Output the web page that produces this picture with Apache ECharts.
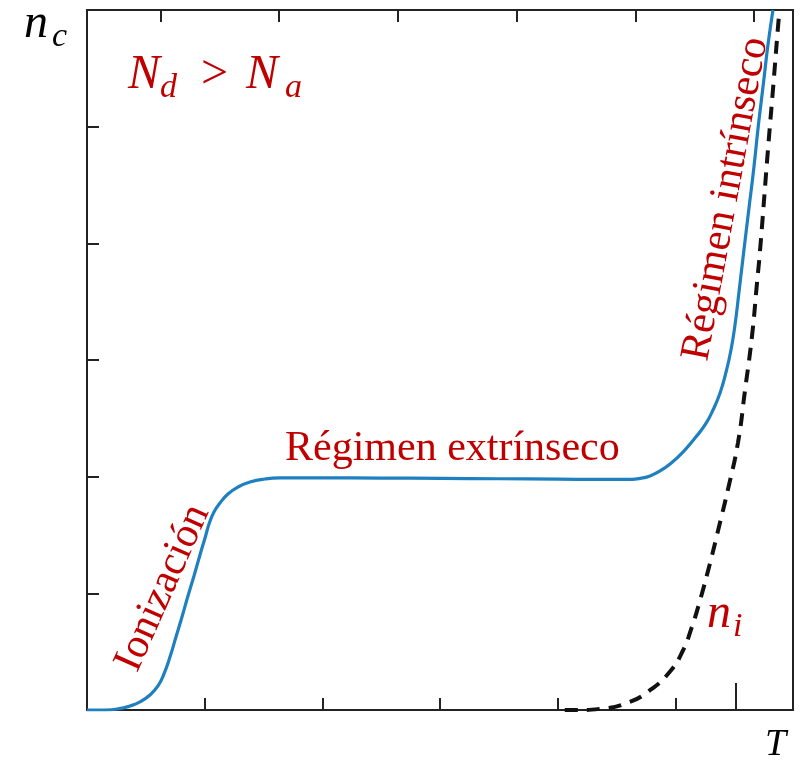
<!DOCTYPE html>
<html>
<head>
<meta charset="utf-8">
<script src="https://cdn.jsdelivr.net/npm/echarts@6/dist/echarts.min.js"></script>
<style>
  html, body { margin: 0; padding: 0; background: #ffffff; }
  #chart { width: 810px; height: 764px; }
</style>
</head>
<body>
<div id="chart"></div>
<script>
// ---- data (arbitrary units: T on 0..6, n on 0..6) ----
const tCarrier = [0, 0.153, 0.263, 0.365, 0.45, 0.535, 0.603, 0.654, 0.705, 0.756, 0.807, 0.858, 0.909, 0.96, 1.003, 1.037, 1.079, 1.13, 1.198, 1.283, 1.385, 1.513, 1.64, 1.98, 2.5, 3.0, 3.5, 4.0, 4.4, 4.589, 4.70, 4.785, 4.87, 4.955, 5.065, 5.167, 5.252, 5.32, 5.38, 5.431, 5.473, 5.507, 5.541, 5.583, 5.626, 5.668, 5.706, 5.749, 5.787, 5.83];
const nCarrier = [0, 0, 0.009, 0.034, 0.069, 0.129, 0.206, 0.309, 0.454, 0.626, 0.797, 0.977, 1.149, 1.329, 1.474, 1.594, 1.697, 1.774, 1.851, 1.911, 1.954, 1.98, 1.989, 1.989, 1.988, 1.985, 1.982, 1.979, 1.976, 1.976, 1.985, 2.006, 2.049, 2.109, 2.211, 2.331, 2.443, 2.571, 2.717, 2.897, 3.086, 3.30, 3.583, 3.943, 4.303, 4.654, 5.014, 5.374, 5.70, 6.0];
const tIntrinsic = [4.06, 4.16, 4.36, 4.59, 4.785, 4.955, 5.065, 5.14, 5.21, 5.295, 5.371, 5.447, 5.532, 5.592, 5.651, 5.694, 5.72, 5.787, 5.834, 5.868, 5.885];
const nIntrinsic = [0, 0, 0.01, 0.06, 0.17, 0.33, 0.51, 0.71, 0.94, 1.26, 1.57, 1.89, 2.29, 2.74, 3.20, 3.66, 3.94, 4.80, 5.37, 5.80, 6.0];

const bottomTicks = [1, 2, 3, 4, 5];
const longBottomTick = [5.515];
const topTicks = [0.63, 1.63, 2.64, 3.65, 4.66, 5.67];
const leftTicks = [1, 2, 3, 4, 5];

const labels = {
  yName: ['n', 'c'],
  xName: 'T',
  condition: ['N', 'd', '>', 'N', 'a'],
  intrinsicName: ['n', 'i'],
  ionization: 'Ionización',
  extrinsic: 'Régimen extrínseco',
  intrinsic: 'Régimen intrínseco'
};

const toPairs = (xs, ys) => xs.map((x, i) => [x, ys[i]]);

const AX = '#222222';
const RED = '#c00000';
const BLUE = '#1f80bf';
const MATH = '"Liberation Serif", "DejaVu Serif", serif';

const chart = echarts.init(document.getElementById('chart'), null, { renderer: 'canvas' });

const axisBase = (extra) => Object.assign({
  type: 'value', min: 0, max: 6,
  splitLine: { show: false },
  axisLabel: { show: false }
}, extra);

const option = {
  animation: false,
  backgroundColor: '#ffffff',
  grid: [
    { left: 87, right: 17, top: 10, bottom: 54 },
    { left: 87, right: 17, top: 10, bottom: 54 }
  ],
  xAxis: [
    axisBase({ gridIndex: 0, position: 'bottom',
      axisLine: { show: true, onZero: false, lineStyle: { color: AX, width: 2 } },
      axisTick: { show: true, inside: true, length: 12, customValues: bottomTicks, lineStyle: { color: AX, width: 2 } } }),
    axisBase({ gridIndex: 0, position: 'top',
      axisLine: { show: true, onZero: false, lineStyle: { color: AX, width: 2 } },
      axisTick: { show: true, inside: true, length: 12, customValues: topTicks, lineStyle: { color: AX, width: 2 } } }),
    axisBase({ gridIndex: 1, position: 'bottom',
      axisLine: { show: false },
      axisTick: { show: true, inside: true, length: 27, customValues: longBottomTick, lineStyle: { color: AX, width: 2 } } })
  ],
  yAxis: [
    axisBase({ gridIndex: 0, position: 'left',
      axisLine: { show: true, onZero: false, lineStyle: { color: AX, width: 2 } },
      axisTick: { show: true, inside: true, length: 12, customValues: leftTicks, lineStyle: { color: AX, width: 2 } } }),
    axisBase({ gridIndex: 0, position: 'right',
      axisLine: { show: true, onZero: false, lineStyle: { color: AX, width: 2 } },
      axisTick: { show: false } }),
    axisBase({ gridIndex: 1, show: false })
  ],
  series: [
    {
      type: 'line', xAxisIndex: 0, yAxisIndex: 0,
      data: toPairs(tIntrinsic, nIntrinsic),
      showSymbol: false, smooth: 0.5,
      lineStyle: { color: '#111111', width: 4, type: [13, 9] },
      z: 3
    },
    {
      type: 'line', xAxisIndex: 0, yAxisIndex: 0,
      data: toPairs(tCarrier, nCarrier),
      showSymbol: false, smooth: 0.5,
      lineStyle: { color: BLUE, width: 3.2 },
      z: 4
    }
  ],
  graphic: [
    // y axis name n_c
    { type: 'text', x: 24, y: 24, style: { text: labels.yName[0], font: 'italic 48px ' + MATH, fill: '#000', align: 'left', verticalAlign: 'middle' } },
    { type: 'text', x: 52, y: 37, style: { text: labels.yName[1], font: 'italic 34px ' + MATH, fill: '#000', align: 'left', verticalAlign: 'middle' } },
    // x axis name T
    { type: 'text', x: 765, y: 745, style: { text: labels.xName, font: 'italic 38px ' + MATH, fill: '#000', align: 'left', verticalAlign: 'middle' } },
    // N_d > N_a
    { type: 'text', x: 128, y: 75, style: { text: labels.condition[0], font: 'italic 48px ' + MATH, fill: RED, align: 'left', verticalAlign: 'middle' } },
    { type: 'text', x: 160, y: 88, style: { text: labels.condition[1], font: 'italic 34px ' + MATH, fill: RED, align: 'left', verticalAlign: 'middle' } },
    { type: 'text', x: 201, y: 75, style: { text: labels.condition[2], font: '48px ' + MATH, fill: RED, align: 'left', verticalAlign: 'middle' } },
    { type: 'text', x: 246, y: 75, style: { text: labels.condition[3], font: 'italic 48px ' + MATH, fill: RED, align: 'left', verticalAlign: 'middle' } },
    { type: 'text', x: 285, y: 88, style: { text: labels.condition[4], font: 'italic 34px ' + MATH, fill: RED, align: 'left', verticalAlign: 'middle' } },
    // n_i
    { type: 'text', x: 707, y: 614, style: { text: labels.intrinsicName[0], font: 'italic 48px ' + MATH, fill: RED, align: 'left', verticalAlign: 'middle' } },
    { type: 'text', x: 733, y: 627, style: { text: labels.intrinsicName[1], font: 'italic 34px ' + MATH, fill: RED, align: 'left', verticalAlign: 'middle' } },
    // region labels
    { type: 'text', x: 285, y: 449, style: { text: labels.extrinsic, font: '42px ' + MATH, fill: RED, align: 'left', verticalAlign: 'middle' } },
    { type: 'text', x: 163, y: 588, rotation: 66 * Math.PI / 180, style: { text: labels.ionization, font: '42px ' + MATH, fill: RED, align: 'center', verticalAlign: 'middle' } },
    { type: 'text', x: 726, y: 199, rotation: 79.5 * Math.PI / 180, style: { text: labels.intrinsic, font: '42px ' + MATH, fill: RED, align: 'center', verticalAlign: 'middle' } }
  ]
};

chart.setOption(option);
</script>
</body>
</html>
